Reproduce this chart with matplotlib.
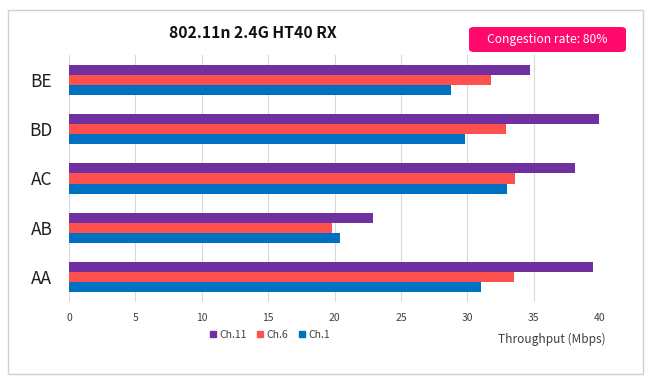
import matplotlib
matplotlib.use("Agg")
import matplotlib.pyplot as plt
from matplotlib.patches import FancyBboxPatch, Rectangle
from matplotlib.lines import Line2D
import numpy as np

plt.rcParams['font.family'] = ['Noto Sans CJK KR', 'DejaVu Sans']

categories = ["AA", "AB", "AC", "BD", "BE"]
series_names = ["Ch.11", "Ch.6", "Ch.1"]
ch11 = [39.5, 22.9, 38.1, 39.9, 34.7]
ch6 = [33.5, 19.8, 33.6, 32.9, 31.8]
ch1 = [31.0, 20.4, 33.0, 29.8, 28.8]
colors = ["#7030A0", "#FF5050", "#0070C0"]
xticks = [0, 5, 10, 15, 20, 25, 30, 35, 40]

W, H = 655, 387
fig = plt.figure(figsize=(W / 100, H / 100), dpi=100)
fig.patch.set_facecolor("white")

# outer border
fig.add_artist(Rectangle((7.5 / W, 1 - 374 / H), (643 - 7.5) / W, (374 - 9.5) / H,
                         transform=fig.transFigure, fill=False, edgecolor="#D0D0D0", lw=1))

ax = fig.add_axes([69 / W, 1 - 302 / H, (600 - 69) / W, (302 - 55) / H])
y = np.arange(len(categories))
bh = 0.205
for i, (vals, c) in enumerate(zip([ch11, ch6, ch1], colors)):
    ax.barh(y + (1 - i) * bh, vals, height=bh, color=c, label=series_names[i], zorder=3)

ax.set_xlim(0, 40)
ax.set_ylim(-0.5, 4.5)
ax.set_xticks(xticks)
ax.set_xticklabels([str(t) for t in xticks], fontsize=7.5, color="#404040")
ax.set_yticks(y)
ax.set_yticklabels(categories, fontsize=12.5, color="#202020")
ax.tick_params(axis="x", length=0, pad=8)
ax.tick_params(axis="y", length=0, pad=12)
ax.grid(axis="x", color="#D9D9D9", lw=0.8, zorder=0)
for s in ax.spines.values():
    s.set_visible(False)

fig.text(253 / W, 1 - 33 / H, "802.11n 2.4G HT40 RX", ha="center", va="center",
         fontsize=11.3, fontweight="bold", color="#111111")

box = FancyBboxPatch((469 / W, 1 - 52 / H), (626 - 469) / W, (52 - 27) / H,
                     boxstyle="round,pad=0,rounding_size=0.008",
                     transform=fig.transFigure, facecolor="#FF0A6C", edgecolor="none")
fig.add_artist(box)
fig.text(547.5 / W, 1 - 40 / H, "Congestion rate: 80%", ha="center", va="center",
         fontsize=8.7, color="white")

handles = [Line2D([], [], marker="s", ls="none", color=c, markersize=5) for c in colors]
fig.legend(handles, series_names, loc="center", bbox_to_anchor=(269 / W, 1 - 335 / H),
           ncol=3, frameon=False, fontsize=7.5, handletextpad=0.1, columnspacing=0.8,
           handlelength=1.0, labelcolor="#404040")

fig.text(551.5 / W, 1 - 339 / H, "Throughput (Mbps)", ha="center", va="center",
         fontsize=8.6, color="#404040")

fig.savefig("out.png", dpi=100)
